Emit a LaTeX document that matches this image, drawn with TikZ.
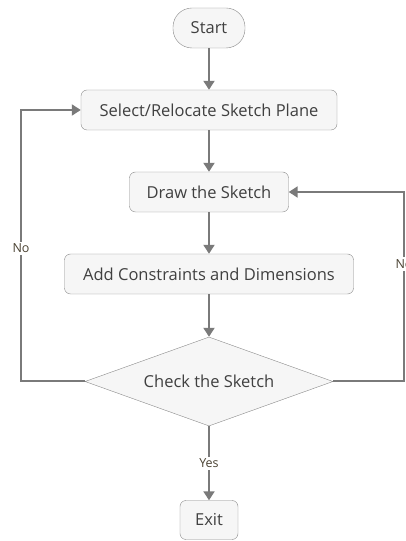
\documentclass[tikz,border=0pt]{standalone}
\usepackage{fontspec}
\setmainfont{Open Sans}
\usetikzlibrary{shapes.geometric,arrows.meta}
\definecolor{flowline}{HTML}{7A7A7A}
\definecolor{boxedge}{HTML}{8A8A8A}
\definecolor{boxfill}{HTML}{F6F6F6}
\definecolor{boxtext}{HTML}{404040}
\definecolor{lbltext}{HTML}{4A4232}
\tikzset{
  box/.style={draw=boxedge,fill=boxfill,rounded corners=6pt,minimum height=40pt,
    text=boxtext,font=\fontsize{16.5}{20}\selectfont,inner sep=0pt},
  terminal/.style={box,rounded corners=19pt},
  decision/.style={diamond,aspect=2.79,draw=boxedge,fill=boxfill,text=boxtext,
    font=\fontsize{16.5}{20}\selectfont,inner sep=0pt,minimum width=248pt,minimum height=89pt},
  flow/.style={draw=flowline,line width=2pt},
  lbl/.style={fill=white,text=lbltext,font=\fontsize{12.5}{15}\selectfont,inner sep=2pt}
}
\begin{document}
\begin{tikzpicture}[x=1pt,y=1pt,>={Triangle[length=9pt,width=11pt]}]
  \useasboundingbox (0,0) rectangle (406,541);
  % steps of the loop
  \node[terminal,minimum width=72pt] (start) at (209,513) {Start};
  \node[box,minimum width=256pt] (select) at (209,431) {Select/Relocate Sketch Plane};
  \node[box,minimum width=159pt] (draw) at (209,349) {Draw the Sketch};
  \node[box,minimum width=289pt] (add) at (209,267) {Add Constraints and Dimensions};
  \node[decision] (check) at (209,159.5) {Check the Sketch};
  \node[box,minimum width=58pt,minimum height=39pt] (exit) at (209,21) {Exit};
  \coordinate (lbend) at (21,159.5);
  \coordinate (ltop) at (21,431);
  \coordinate (rbend) at (404,159.5);
  \coordinate (rtop) at (404,349);
  % connectors
  \draw[flow,->] (start) -- (select);
  \draw[flow,->] (select) -- (draw);
  \draw[flow,->] (draw) -- (add);
  \draw[flow,->] (add) -- (check);
  \draw[flow,->] (check) -- node[lbl] {Yes} (exit);
  \draw[flow,->] (check.west) -- (lbend) -- node[lbl,pos=0.49] {No} (ltop) -- (select.west);
  \draw[flow,->] (check.east) -- (rbend) -- node[lbl,pos=0.62] {No} (rtop) -- (draw.east);
\end{tikzpicture}
\end{document}
